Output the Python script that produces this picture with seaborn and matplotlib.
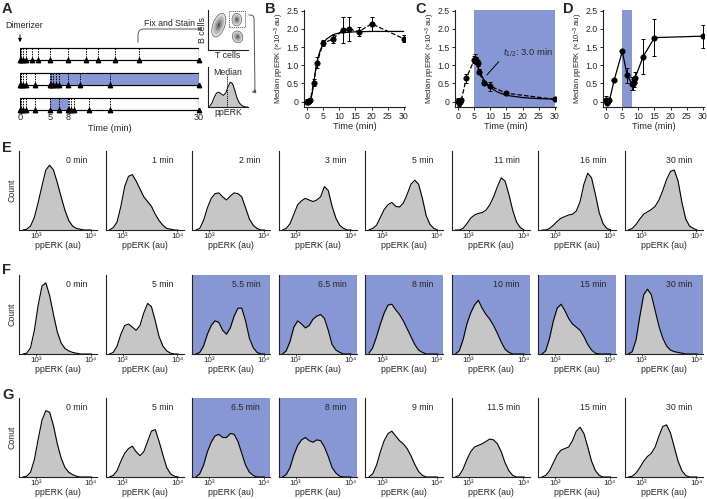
import numpy as np
import matplotlib
matplotlib.use('Agg')
import matplotlib.pyplot as plt
import seaborn as sns
from matplotlib.patches import Rectangle, Ellipse, FancyArrowPatch

# ---------------- data ----------------
# B: sustained stimulation
stim_t = [0, 0.25, 0.5, 1, 2, 3, 5, 8, 11, 13, 16, 20, 30]
stim_med = [0.0, 0.0, 0.02, 0.05, 0.52, 1.07, 1.61, 1.72, 1.97, 2.0, 1.92, 2.14, 1.73]
stim_err = [0.08, 0.05, 0.05, 0.05, 0.1, 0.15, 0.08, 0.12, 0.35, 0.32, 0.12, 0.2, 0.1]
stim_fit_t = [0, 1, 1.5, 2, 2.5, 3, 3.5, 4, 5, 6, 8, 10, 15, 20, 30]
stim_fit_y = [0, 0.05, 0.2, 0.5, 0.8, 1.05, 1.25, 1.4, 1.6, 1.72, 1.84, 1.89, 1.92, 1.93, 1.93]

# C: washout from 5 min
wash_t = [0, 0.25, 0.5, 1, 2.5, 5, 5.25, 5.5, 6, 6.5, 8, 10, 15, 30]
wash_med = [0.02, -0.05, 0.0, 0.05, 0.64, 1.15, 1.18, 1.13, 1.06, 0.82, 0.5, 0.42, 0.23, 0.06]
wash_err = [0.07, 0.08, 0.05, 0.05, 0.12, 0.1, 0.12, 0.1, 0.07, 0.07, 0.05, 0.12, 0.03, 0.04]
decay_fit_t = [5.25, 6, 7, 8, 9, 10, 12, 15, 20, 25, 30]
decay_fit_y = [1.2, 0.98, 0.76, 0.6, 0.48, 0.39, 0.27, 0.17, 0.11, 0.08, 0.07]

# D: pulse 5-8 min, then re-stimulation
pulse_t = [0, 0.25, 0.5, 1, 2.5, 5, 6.5, 8, 8.25, 8.5, 9, 11.5, 15, 30]
pulse_med = [0.05, -0.03, 0.02, 0.03, 0.6, 1.38, 0.72, 0.49, 0.47, 0.53, 0.66, 1.24, 1.76, 1.8]
pulse_err = [0.1, 0.05, 0.05, 0.05, 0.03, 0.03, 0.2, 0.18, 0.15, 0.12, 0.15, 0.47, 0.5, 0.32]

# histogram bin centres (log10 ppERK)
hist_bins = [2.76, 2.83, 2.90, 2.97, 3.04, 3.11, 3.18, 3.25, 3.32, 3.39,
             3.46, 3.53, 3.60, 3.67, 3.74, 3.81, 3.88, 3.95, 4.02]

e_labels = ['0 min', '1 min', '2 min', '3 min', '5 min', '11 min', '16 min', '30 min']
e_hists = [
    [0, 0.01, 0.05, 0.16, 0.35, 0.56, 0.76, 0.82, 0.76, 0.6, 0.42, 0.25, 0.12, 0.05, 0.02, 0.01, 0, 0, 0],
    [0, 0.03, 0.1, 0.3, 0.55, 0.68, 0.7, 0.62, 0.52, 0.42, 0.36, 0.3, 0.2, 0.12, 0.06, 0.02, 0.01, 0, 0],
    [0, 0.02, 0.12, 0.28, 0.4, 0.46, 0.47, 0.42, 0.38, 0.43, 0.47, 0.46, 0.42, 0.28, 0.14, 0.06, 0.02, 0, 0],
    [0, 0.02, 0.08, 0.2, 0.32, 0.37, 0.4, 0.38, 0.36, 0.38, 0.42, 0.55, 0.5, 0.3, 0.15, 0.06, 0.02, 0, 0],
    [0, 0.02, 0.06, 0.16, 0.26, 0.32, 0.35, 0.3, 0.29, 0.34, 0.45, 0.58, 0.63, 0.58, 0.4, 0.18, 0.07, 0.02, 0],
    [0, 0, 0.02, 0.08, 0.15, 0.19, 0.21, 0.22, 0.25, 0.32, 0.42, 0.55, 0.66, 0.62, 0.45, 0.25, 0.1, 0.03, 0],
    [0, 0, 0.02, 0.06, 0.11, 0.15, 0.17, 0.19, 0.2, 0.24, 0.36, 0.58, 0.72, 0.66, 0.45, 0.22, 0.08, 0.02, 0],
    [0, 0.02, 0.07, 0.14, 0.2, 0.23, 0.26, 0.3, 0.38, 0.5, 0.64, 0.74, 0.76, 0.62, 0.35, 0.14, 0.05, 0.02, 0],
]
e_blue = [False] * 8

f_labels = ['0 min', '5 min', '5.5 min', '6.5 min', '8 min', '10 min', '15 min', '30 min']
f_hists = [
    [0, 0.01, 0.08, 0.3, 0.62, 0.86, 0.9, 0.74, 0.5, 0.28, 0.14, 0.07, 0.04, 0.02, 0.01, 0, 0, 0, 0],
    [0, 0.02, 0.1, 0.25, 0.36, 0.38, 0.34, 0.3, 0.36, 0.52, 0.64, 0.6, 0.42, 0.22, 0.1, 0.04, 0.01, 0, 0],
    [0, 0.02, 0.1, 0.25, 0.36, 0.42, 0.4, 0.3, 0.25, 0.33, 0.48, 0.58, 0.58, 0.42, 0.2, 0.08, 0.02, 0, 0],
    [0, 0.04, 0.16, 0.34, 0.42, 0.38, 0.33, 0.36, 0.44, 0.48, 0.5, 0.45, 0.3, 0.12, 0.05, 0.02, 0, 0, 0],
    [0.01, 0.08, 0.22, 0.38, 0.52, 0.62, 0.63, 0.56, 0.5, 0.42, 0.32, 0.22, 0.12, 0.05, 0.02, 0, 0, 0, 0],
    [0, 0.04, 0.18, 0.38, 0.52, 0.62, 0.68, 0.58, 0.5, 0.44, 0.36, 0.26, 0.15, 0.06, 0.02, 0, 0, 0, 0],
    [0, 0.04, 0.2, 0.42, 0.58, 0.63, 0.55, 0.45, 0.38, 0.34, 0.3, 0.22, 0.12, 0.05, 0.01, 0, 0, 0, 0],
    [0, 0.03, 0.18, 0.48, 0.75, 0.82, 0.75, 0.55, 0.35, 0.2, 0.1, 0.05, 0.03, 0.02, 0.01, 0, 0, 0, 0],
]
f_blue = [False, False, True, True, True, True, True, True]

g_labels = ['0 min', '5 min', '6.5 min', '8 min', '9 min', '11.5 min', '15 min', '30 min']
g_hists = [
    [0, 0.01, 0.06, 0.22, 0.48, 0.72, 0.84, 0.82, 0.65, 0.42, 0.24, 0.12, 0.06, 0.03, 0.01, 0, 0, 0, 0],
    [0, 0.02, 0.08, 0.2, 0.3, 0.36, 0.39, 0.32, 0.27, 0.32, 0.45, 0.58, 0.6, 0.45, 0.28, 0.12, 0.04, 0.01, 0],
    [0, 0.04, 0.15, 0.32, 0.44, 0.52, 0.54, 0.5, 0.5, 0.55, 0.54, 0.45, 0.3, 0.15, 0.06, 0.02, 0, 0, 0],
    [0, 0.03, 0.12, 0.28, 0.4, 0.47, 0.5, 0.46, 0.44, 0.47, 0.46, 0.38, 0.26, 0.12, 0.05, 0.01, 0, 0, 0],
    [0, 0.04, 0.15, 0.32, 0.46, 0.55, 0.58, 0.52, 0.46, 0.42, 0.36, 0.27, 0.16, 0.07, 0.02, 0, 0, 0, 0],
    [0, 0.02, 0.1, 0.22, 0.32, 0.38, 0.4, 0.42, 0.45, 0.48, 0.47, 0.42, 0.32, 0.18, 0.08, 0.02, 0, 0, 0],
    [0, 0.02, 0.08, 0.18, 0.28, 0.34, 0.36, 0.38, 0.46, 0.58, 0.63, 0.55, 0.38, 0.2, 0.08, 0.02, 0, 0, 0],
    [0, 0.01, 0.05, 0.12, 0.2, 0.26, 0.3, 0.38, 0.52, 0.64, 0.66, 0.56, 0.38, 0.2, 0.08, 0.02, 0, 0, 0],
]
g_blue = [False, False, True, True, False, False, False, False]

# ---------------- style ----------------
sns.set_theme(style='ticks')
plt.rcParams['font.family'] = ['Liberation Sans', 'DejaVu Sans']
plt.rcParams['mathtext.fontset'] = 'custom'
plt.rcParams['mathtext.rm'] = 'Liberation Sans'
plt.rcParams['mathtext.it'] = 'Liberation Sans:italic'
plt.rcParams['axes.linewidth'] = 0.8
plt.rcParams['axes.edgecolor'] = '#222222'

BLUE = '#8797d3'
GREY = '#c6c6c6'
FS = 6.3
W, H = 707, 499
fig = plt.figure(figsize=(W / 100, H / 100), dpi=100)


def add_ax(l, t, r, b):
    return fig.add_axes([l / W, 1 - b / H, (r - l) / W, (b - t) / H])


def fx(x):
    return x / W


def fy(y):
    return 1 - y / H


def letter(x, y, s):
    fig.text(fx(x), fy(y), s, fontsize=10.5, fontweight='bold', ha='left', va='center')


# ---------------- panel A ----------------
axA = add_ax(20, 40, 199, 112)
axA.set_xlim(0, 30)
axA.set_ylim(112, 40)
rows = [(48, stim_t, None), (73, wash_t, (5, 30)), (98, pulse_t, (5, 8))]
for top, times, span in rows:
    axA.add_patch(Rectangle((0, top), 30, 12, facecolor='white', edgecolor='black', lw=0.8, zorder=1))
    if span is not None:
        axA.add_patch(Rectangle((span[0], top), span[1] - span[0], 12, facecolor=BLUE,
                                edgecolor='none', zorder=2))
    axA.vlines(times, top, top + 12, colors='black', linestyles=(0, (1.5, 1.2)), lw=0.7, zorder=3)
    axA.plot(times, [top + 12] * len(times), '^', ms=3.2, color='black', clip_on=False, zorder=4)
    axA.add_patch(Rectangle((0, top), 30, 12, facecolor='none', edgecolor='black', lw=0.8, zorder=5))
axA.set_xticks([0, 5, 8, 30])
axA.tick_params(axis='x', length=0, labelsize=FS + 0.3, pad=1)
axA.set_yticks([])
axA.set_xlabel('Time (min)', fontsize=FS + 0.3, labelpad=1)
sns.despine(ax=axA, left=True, bottom=True)

fig.text(fx(5), fy(26), 'Dimerizer', fontsize=FS, ha='left', va='center')
fig.add_artist(FancyArrowPatch((fx(20), fy(32)), (fx(20), fy(45)), transform=fig.transFigure,
                               arrowstyle='-|>', mutation_scale=5, lw=0.7, color='black'))
fig.text(fx(144), fy(23), 'Fix and Stain', fontsize=FS, ha='left', va='center')
fig.add_artist(FancyArrowPatch((fx(138), fy(45)), (fx(205), fy(29)), transform=fig.transFigure,
                               connectionstyle='angle,angleA=90,angleB=0,rad=6',
                               arrowstyle='-|>', mutation_scale=5, lw=0.7, color='#555555'))
fig.add_artist(FancyArrowPatch((fx(246), fy(15)), (fx(249), fy(92)), transform=fig.transFigure,
                               connectionstyle='arc,angleA=0,armA=8,angleB=0,armB=6,rad=4',
                               arrowstyle='-|>', mutation_scale=5, lw=0.7, color='#555555'))

# flow cytometry sketch
axS = add_ax(208, 10, 248, 50)
axS.set_xlim(0, 1)
axS.set_ylim(0, 1)
for cx, cy, w, h, ang in [(0.27, 0.62, 0.3, 0.62, -20), (0.72, 0.76, 0.24, 0.32, 0), (0.74, 0.33, 0.26, 0.3, 20)]:
    for k, (sc, col) in enumerate([(1.0, '#dddddd'), (0.75, '#b5b5b5'), (0.45, '#8a8a8a'), (0.2, '#5a5a5a')]):
        axS.add_patch(Ellipse((cx, cy), w * sc, h * sc, angle=ang, facecolor=col,
                              edgecolor='#444444' if k == 0 else 'none', lw=0.4))
axS.add_patch(Rectangle((0.53, 0.58), 0.4, 0.4, facecolor='none', edgecolor='#555555',
                        lw=0.6, ls=(0, (1.5, 1))))
axS.set_xticks([])
axS.set_yticks([])
axS.set_xlabel('T cells', fontsize=FS, labelpad=1)
axS.set_ylabel('B cells', fontsize=FS, labelpad=1)
sns.despine(ax=axS)

# histogram icon with median
axI = add_ax(208, 67, 248, 107)
icon = f_hists[1]
axI.fill_between(hist_bins, icon, color=GREY, lw=0)
sns.lineplot(x=hist_bins, y=icon, ax=axI, color='black', lw=0.7)
cum = np.cumsum(icon) / np.sum(icon)
med = np.interp(0.5, cum, hist_bins)
axI.axvline(med, ymin=0, ymax=0.8, color='black', lw=0.6, ls=(0, (1.5, 1)))
axI.set_xlim(2.78, 4.0)
axI.set_ylim(0, 1.03)
axI.set_xticks([])
axI.set_yticks([])
axI.set_xlabel('ppERK', fontsize=FS, labelpad=1)
axI.text(0.5, 0.86, 'Median', transform=axI.transAxes, ha='center', va='center', fontsize=FS)
sns.despine(ax=axI)


# ---------------- panels B, C, D ----------------
def time_course(l, times, med, err, dash, span=None):
    ax = add_ax(l, 10, l + 101, 107)
    if span is not None:
        ax.axvspan(span[0], span[1], color=BLUE, lw=0, zorder=0)
    sns.lineplot(x=times, y=med, ax=ax, color='black', lw=0.9,
                 linestyle='--' if dash else '-', zorder=3)
    ax.errorbar(times, med, yerr=err, fmt='none', ecolor='black', elinewidth=0.7,
                capsize=1.6, capthick=0.7, zorder=4)
    sns.scatterplot(x=times, y=med, ax=ax, color='black', s=16, edgecolor='black', zorder=5)
    ax.set_xlim(-1, 30.4)
    ax.set_ylim(-0.15, 2.52)
    ax.set_xticks([0, 5, 10, 15, 20, 25, 30])
    ax.set_yticks([0, 0.5, 1.0, 1.5, 2.0, 2.5])
    ax.set_yticklabels(['0', '0.5', '1.0', '1.5', '2.0', '2.5'])
    ax.tick_params(labelsize=FS, length=2.5, width=0.7, pad=1.2)
    ax.set_xlabel('Time (min)', fontsize=FS + 0.3, labelpad=0.5)
    ax.set_ylabel('Median ppERK (×10$^{-3}$ au)', fontsize=5.6)
    ax.yaxis.set_label_coords(-0.175, 0.5)
    sns.despine(ax=ax)
    return ax


axB = time_course(304, stim_t, stim_med, stim_err, True)
sns.lineplot(x=stim_fit_t, y=stim_fit_y, ax=axB, color='black', lw=0.9, zorder=2)

axC = time_course(455, wash_t, wash_med, wash_err, True, span=(5, 30))
sns.lineplot(x=decay_fit_t, y=decay_fit_y, ax=axC, color='black', lw=0.9, zorder=2)
axC.annotate(r'$t_{1/2}$: 3.0 min', xy=(8.9, 0.73), xytext=(13.9, 1.33), fontsize=FS + 0.5,
             va='center', ha='left',
             arrowprops=dict(arrowstyle='-', lw=0.7, color='black', relpos=(0, 0.2),
                             shrinkA=1, shrinkB=0))

axD = time_course(603, pulse_t, pulse_med, pulse_err, False, span=(5, 8))


# ---------------- histogram rows ----------------
def hist_row(top, labels, hists, blue, ylab):
    for i, (lab, h, b) in enumerate(zip(labels, hists, blue)):
        left = 19.3 + i * 86.5
        ax = add_ax(left, top, left + 78, top + 79)
        if b:
            ax.set_facecolor(BLUE)
        ax.fill_between(hist_bins, h, color=GREY, lw=0, zorder=2)
        sns.lineplot(x=hist_bins, y=h, ax=ax, color='black', lw=0.8, zorder=3)
        ax.set_xlim(2.694, 4.123)
        ax.set_ylim(0, 1.0)
        ax.set_xticks([3, 4])
        ax.set_xticklabels(['10³', '10⁴'])
        ax.set_yticks([])
        ax.tick_params(axis='x', labelsize=5.8, length=1.5, width=0.6, pad=0.8)
        ax.set_xlabel('ppERK (au)', fontsize=FS, labelpad=0.5)
        ax.text(0.87, 0.875, lab, transform=ax.transAxes, ha='right', va='center', fontsize=FS)
        if i == 0:
            ax.set_ylabel(ylab, fontsize=FS, labelpad=2)
        sns.despine(ax=ax)


hist_row(151, e_labels, e_hists, e_blue, 'Count')
hist_row(275, f_labels, f_hists, f_blue, 'Count')
hist_row(398, g_labels, g_hists, g_blue, 'Conut')

letter(265, 9, 'B')
letter(2, 9, 'A')
letter(415, 9, 'C')
letter(563, 9, 'D')
letter(2, 148, 'E')
letter(2, 270, 'F')
letter(2, 395, 'G')

fig.savefig('out.png', dpi=100)
